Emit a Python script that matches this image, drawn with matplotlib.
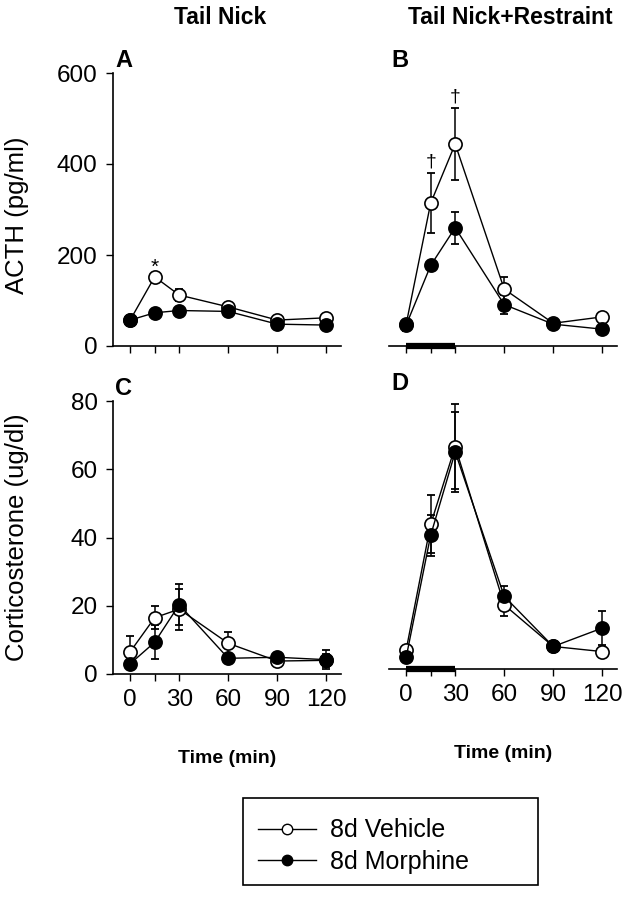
import matplotlib
matplotlib.use("Agg")
import matplotlib.pyplot as plt
from matplotlib.lines import Line2D
from matplotlib.patches import Rectangle

plt.rcParams['font.family'] = ['Liberation Sans', 'DejaVu Sans']

# time points (min)
times = [0, 15, 30, 60, 90, 120]
tick_labels = ['0', '', '30', '60', '90', '120']
restraint = [0, 30]

# ACTH (pg/ml), tail nick
acth_tn_veh = [57, 152, 112, 86, 57, 62]
acth_tn_veh_err = [5, 8, 13, 6, 5, 5]
acth_tn_mor = [57, 73, 78, 76, 48, 46]
acth_tn_mor_err = [5, 5, 6, 5, 5, 5]
# ACTH (pg/ml), tail nick + restraint
acth_tr_veh = [48, 314, 444, 125, 50, 64]
acth_tr_veh_err = [10, 66, 80, 27, 8, 6]
acth_tr_mor = [46, 177, 260, 91, 48, 37]
acth_tr_mor_err = [12, 8, 35, 21, 10, 5]
# corticosterone (ug/dl), tail nick
cort_tn_veh = [6.5, 16.5, 19, 9, 3.8, 4]
cort_tn_veh_err = [4.5, 3.3, 6, 3.3, 1, 2]
cort_tn_mor = [3, 9.3, 20.3, 4.6, 4.9, 4.2]
cort_tn_mor_err = [1, 5, 6, 1, 1, 2.7]
# corticosterone (ug/dl), tail nick + restraint
cort_tr_veh = [5.6, 42.4, 65.2, 18.8, 6.6, 5.1]
cort_tr_veh_err = [1, 8.5, 12.4, 3.2, 1, 1]
cort_tr_mor = [3.4, 39.2, 63.6, 21.3, 6.6, 12]
cort_tr_mor_err = [1, 6, 11.7, 3, 1, 5.1]

# significance marks
star_pos = [(15, 172)]
dagger_pos = [(15, 405), (30, 548)]

W, H = 625, 899
fig = plt.figure(figsize=(W / 100, H / 100), dpi=100)


def px_axes(left, right, top, bottom):
    return fig.add_axes([left / W, 1 - bottom / H, (right - left) / W, (bottom - top) / H])


axA = px_axes(113, 341, 73, 346)
axB = px_axes(389, 617, 73, 346)
axC = px_axes(113, 341, 401, 674)
axD = px_axes(389, 617, 396, 669)


def draw(ax, veh, veh_err, mor, mor_err):
    ax.errorbar(times, veh, yerr=veh_err, fmt='none', ecolor='black', elinewidth=1.1,
                capsize=3, capthick=1.3, zorder=2)
    ax.errorbar(times, mor, yerr=mor_err, fmt='none', ecolor='black', elinewidth=1.1,
                capsize=3, capthick=1.3, zorder=2)
    ax.plot(times, veh, color='black', lw=1, marker='o', ms=9.5, mfc='white', mec='black',
            mew=1.2, zorder=3)
    ax.plot(times, mor, color='black', lw=1, marker='o', ms=9.5, mfc='black', mec='black',
            mew=1.2, zorder=4)


draw(axA, acth_tn_veh, acth_tn_veh_err, acth_tn_mor, acth_tn_mor_err)
draw(axB, acth_tr_veh, acth_tr_veh_err, acth_tr_mor, acth_tr_mor_err)
draw(axC, cort_tn_veh, cort_tn_veh_err, cort_tn_mor, cort_tn_mor_err)
draw(axD, cort_tr_veh, cort_tr_veh_err, cort_tr_mor, cort_tr_mor_err)

for ax in (axA, axB, axC, axD):
    ax.set_xlim(-10.5, 129)
    ax.set_xticks(times)
    ax.spines['top'].set_visible(False)
    ax.spines['right'].set_visible(False)
    ax.spines['bottom'].set_linewidth(1.2)
    ax.spines['left'].set_linewidth(1.2)
    ax.tick_params(direction='out', length=5, width=1, labelsize=17.5, pad=6)

for ax in (axA, axB):
    ax.set_ylim(0, 600)
    ax.set_xticklabels([])
for ax in (axC, axD):
    ax.set_ylim(0, 80)
    ax.set_xticklabels(tick_labels)
    ax.set_xlabel('Time (min)', fontsize=14, fontweight='bold', labelpad=28)

axA.set_yticks([0, 200, 400, 600])
axC.set_yticks([0, 20, 40, 60, 80])
for ax in (axB, axD):
    ax.spines['left'].set_visible(False)
    ax.set_yticks([])
    # restraint period bar
    ax.plot(restraint, [0, 0], color='black', lw=4.5, solid_capstyle='butt',
            transform=ax.get_xaxis_transform(), clip_on=False, zorder=5)

for x, y in star_pos:
    axA.text(x, y, '*', ha='center', va='center', fontsize=15)
for x, y in dagger_pos:
    axB.text(x, y, '\u2020', ha='center', va='center', fontsize=14)

# panel letters
for ax, letter in ((axA, 'A'), (axB, 'B'), (axC, 'C'), (axD, 'D')):
    ax.text(0.01, 1.045, letter, transform=ax.transAxes, fontsize=17, fontweight='bold',
            ha='left', va='center')

fig.text(220 / W, 1 - 18 / H, 'Tail Nick', fontsize=16.5, fontweight='bold', ha='center',
         va='center')
fig.text(510 / W, 1 - 18 / H, 'Tail Nick+Restraint', fontsize=16.5, fontweight='bold',
         ha='center', va='center')
fig.text(17 / W, 1 - 215 / H, 'ACTH (pg/ml)', fontsize=18.5, rotation=90, ha='center',
         va='center')
fig.text(17 / W, 1 - 537 / H, 'Corticosterone (ug/dl)', fontsize=18.5, rotation=90,
         ha='center', va='center')

# legend box
fig.patches.append(Rectangle((243 / W, 1 - 885 / H), 295 / W, 87 / H, transform=fig.transFigure,
                             fill=False, edgecolor='black', lw=1.2))
handles = [
    Line2D([], [], color='black', lw=1, marker='o', ms=7.5, mfc='white', mec='black'),
    Line2D([], [], color='black', lw=1, marker='o', ms=7.5, mfc='black', mec='black'),
]
fig.legend(handles, ['8d Vehicle', '8d Morphine'], loc='center left',
           bbox_to_anchor=(258 / W, 1 - 846 / H), fontsize=18, frameon=False,
           handlelength=2.3, labelspacing=0.3, borderpad=0, borderaxespad=0,
           handletextpad=0.6)

fig.savefig('out.png', dpi=100)
